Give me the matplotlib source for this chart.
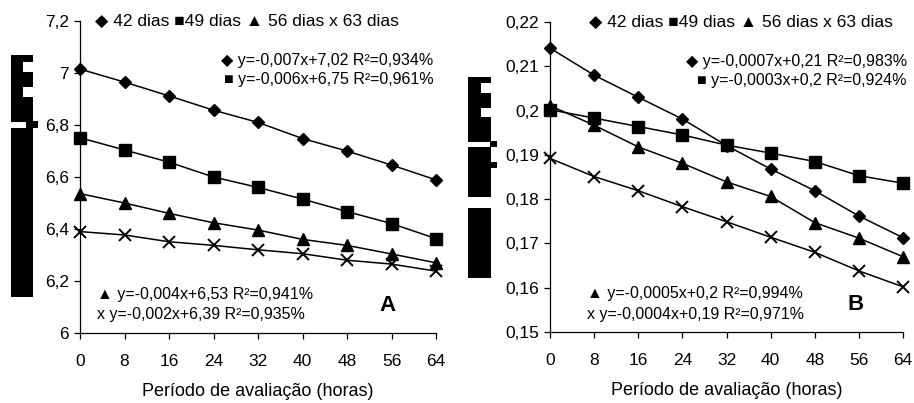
import matplotlib.pyplot as plt
from matplotlib.patches import Rectangle

plt.rcParams['font.family'] = ['Liberation Sans', 'DejaVu Sans']

horas = [0, 8, 16, 24, 32, 40, 48, 56, 64]

# painel A
a_42 = [7.015, 6.965, 6.912, 6.857, 6.81, 6.748, 6.70, 6.646, 6.589]
a_49 = [6.751, 6.704, 6.657, 6.60, 6.56, 6.515, 6.467, 6.421, 6.363]
a_56 = [6.536, 6.50, 6.46, 6.424, 6.396, 6.36, 6.337, 6.304, 6.27]
a_63 = [6.39, 6.377, 6.351, 6.337, 6.32, 6.305, 6.28, 6.265, 6.238]

# painel B
b_42 = [0.2141, 0.2080, 0.2030, 0.1981, 0.1921, 0.1868, 0.1819, 0.1762, 0.1713]
b_49 = [0.2002, 0.1983, 0.1964, 0.1945, 0.1922, 0.1904, 0.1885, 0.1853, 0.1836]
b_56 = [0.2011, 0.1967, 0.1918, 0.1881, 0.1839, 0.1806, 0.1747, 0.1712, 0.1670]
b_63 = [0.1892, 0.1851, 0.1819, 0.1783, 0.1749, 0.1714, 0.1680, 0.1638, 0.1602]

a_yticks = [6, 6.2, 6.4, 6.6, 6.8, 7, 7.2]
a_ylabels = ['6', '6,2', '6,4', '6,6', '6,8', '7', '7,2']
b_yticks = [0.15, 0.16, 0.17, 0.18, 0.19, 0.20, 0.21, 0.22]
b_ylabels = ['0,15', '0,16', '0,17', '0,18', '0,19', '0,2', '0,21', '0,22']

legenda = '\u25c6 42 dias \u25a049 dias \u25b2 56 dias x 63 dias'
a_eq = ['\u25c6 y=-0,007x+7,02 R\u00b2=0,934%', '\u25a0 y=-0,006x+6,75 R\u00b2=0,961%',
        '\u25b2 y=-0,004x+6,53 R\u00b2=0,941%', 'x y=-0,002x+6,39 R\u00b2=0,935%']
b_eq = ['\u25c6 y=-0,0007x+0,21 R\u00b2=0,983%', '\u25a0 y=-0,0003x+0,2 R\u00b2=0,924%',
        '\u25b2 y=-0,0005x+0,2 R\u00b2=0,994%', 'x y=-0,0004x+0,19 R\u00b2=0,971%']

W, H = 914, 403
fig = plt.figure(figsize=(W / 100, H / 100), dpi=100)


def px_axes(l, t, r, b):
    return fig.add_axes([l / W, 1 - b / H, (r - l) / W, (b - t) / H])


def painel(ax, series, yticks, ylabels, eqs, letra, leg_x, eq_right, eq_left):
    estilos = [dict(marker='D', ms=6.5), dict(marker='s', ms=8.5),
               dict(marker='^', ms=9), dict(marker='x', ms=9, mew=1.4)]
    for ys, st in zip(series, estilos):
        ax.plot(horas, ys, color='black', lw=1.1, mfc='black', mec='black',
                clip_on=False, **st)
    ax.set_xlim(0, 64)
    ax.set_ylim(yticks[0], yticks[-1])
    ax.set_xticks(horas)
    ax.set_xticklabels([str(h) for h in horas])
    ax.set_yticks(yticks)
    ax.set_yticklabels(ylabels)
    for s in ['top', 'right']:
        ax.spines[s].set_visible(False)
    for s in ['left', 'bottom']:
        ax.spines[s].set_linewidth(0.9)
    ax.tick_params(axis='both', direction='out', length=4, width=0.9,
                   labelsize=12.5, colors='black')
    ax.tick_params(axis='x', pad=11)
    ax.tick_params(axis='y', pad=4)
    ax.set_xlabel('Período de avaliação (horas)', fontsize=13, labelpad=10)
    ax.text(leg_x, 1.0, legenda, transform=ax.transAxes, ha='center',
            va='center', fontsize=12.5)
    ax.text(eq_right, 0.872, eqs[0], transform=ax.transAxes, ha='right',
            va='center', fontsize=11.5)
    ax.text(eq_right, 0.812, eqs[1], transform=ax.transAxes, ha='right',
            va='center', fontsize=11.5)
    ax.text(eq_left, 0.123, eqs[2], transform=ax.transAxes, ha='left',
            va='center', fontsize=11.5)
    ax.text(eq_left, 0.058, eqs[3], transform=ax.transAxes, ha='left',
            va='center', fontsize=11.5)
    ax.text(0.865, 0.088, letra, transform=ax.transAxes, ha='center',
            va='center', fontsize=16, fontweight='bold')


ax1 = px_axes(80, 21, 436, 333)
painel(ax1, [a_42, a_49, a_56, a_63], a_yticks, a_ylabels, a_eq, 'A',
       0.47, 0.992, 0.048)
ax2 = px_axes(550, 22, 903, 332)
painel(ax2, [b_42, b_49, b_56, b_63], b_yticks, b_ylabels, b_eq, 'B',
       0.54, 1.011, 0.105)


# tarjas pretas sobre o rótulo do eixo y (ilegível no original)
def caixa(l, t, r, b, cor='black'):
    fig.add_artist(Rectangle((l / W, 1 - b / H), (r - l) / W, (b - t) / H,
                             transform=fig.transFigure, color=cor, lw=0))


caixa(11, 55, 33, 297)
caixa(23, 62, 33, 72, 'white')
caixa(23, 87, 33, 97, 'white')
caixa(11, 122, 26, 128, 'white')
caixa(33, 121, 38, 128)

caixa(468, 77, 491, 278)
caixa(481, 83, 491, 93, 'white')
caixa(481, 108, 491, 117, 'white')
caixa(468, 142, 490, 147, 'white')
caixa(491, 141, 497, 147)
caixa(491, 162, 497, 168)
caixa(468, 197, 491, 208, 'white')

fig.savefig('out.png', dpi=100)
